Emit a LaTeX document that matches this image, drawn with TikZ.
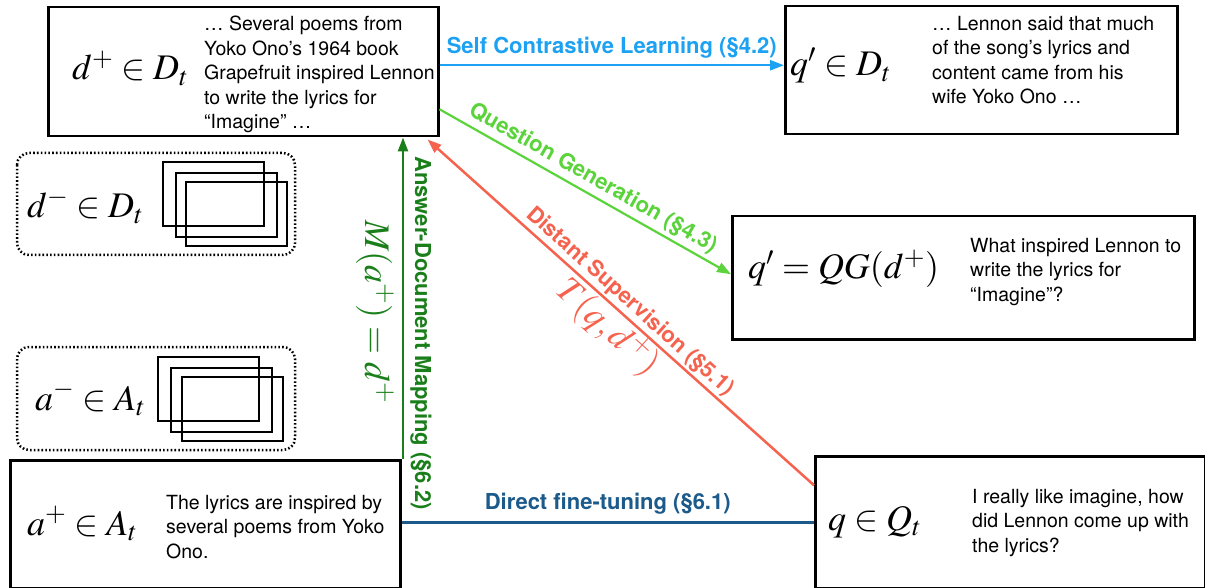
\documentclass[tikz,border=0pt]{standalone}
\usepackage{mathptmx}
\usepackage[no-math]{fontspec}
\setmainfont{TeX Gyre Heros}
\usetikzlibrary{arrows.meta}
\definecolor{cBlue}{HTML}{1DA1F2}
\definecolor{cLGreen}{HTML}{5AD43A}
\definecolor{cDGreen}{HTML}{1A7F1A}
\definecolor{cRed}{HTML}{F5634F}
\definecolor{cNavy}{HTML}{1B5A8A}
\begin{document}
\begin{tikzpicture}[x=1pt,y=-1pt,
  box/.style={draw, line width=2.5pt, inner sep=0pt, anchor=north west},
  mth/.style={inner sep=0pt, anchor=base west, font=\fontsize{36}{40}\selectfont},
  txt/.style={inner sep=0pt, anchor=north west, align=left, font=\fontsize{19.5}{24.5}\selectfont},
  lbl/.style={font=\fontsize{22}{26}\selectfont\bfseries},
  dotbox/.style={line width=2.5pt, dash pattern=on 1.6pt off 2.2pt, rounded corners=12pt},
  stk/.style={line width=2.5pt},
  tip/.style={-{Triangle[length=14pt,width=10pt]}},
  conn/.style={line width=2.5pt}
]
\useasboundingbox (0,0) rectangle (1205,588);

% main boxes
\node[box, minimum width=390pt, minimum height=129pt] (dp) at (47,6) {};
\node[box, minimum width=392pt, minimum height=128pt] (qp) at (784,5) {};
\node[box, minimum width=462pt, minimum height=123pt] (qg) at (731,215) {};
\node[box, minimum width=390pt, minimum height=128pt] (ap) at (9,459) {};
\node[box, minimum width=390pt, minimum height=132pt] (q) at (814,455) {};

% contents
\node[mth] (dpm) at (72,80) {$d^+ \in D_t$};
\node[txt] (dpt) at (204,16) {… Several poems from\\Yoko Ono’s 1964 book\\Grapefruit inspired Lennon\\to write the lyrics for\\“Imagine” …};

\node[mth] (qpm) at (790,76) {$q' \in D_t$};
\node[txt] (qpt) at (932,16) {… Lennon said that much\\of the song’s lyrics and\\content came from his\\wife Yoko Ono …};

\node[mth] (qgm) at (748,279) {$q' = QG(d^+)$};
\node[txt] (qgt) at (970,238) {What inspired Lennon to\\write the lyrics for\\“Imagine”?};

\node[mth] (apm) at (27,535) {$a^+ \in A_t$};
\node[txt] (apt) at (166,495) {The lyrics are inspired by\\several poems from Yoko\\Ono.};

\node[mth] (qm) at (828,530) {$q \in Q_t$};
\node[txt] (qt) at (972,489) {I really like imagine, how\\did Lennon come up with\\the lyrics?};

% negative sets
\draw[dotbox] (17,153) rectangle (295,255);
\node[mth] (dmm) at (27,218) {$d^- \in D_t$};
\draw[stk] (163,162) rectangle ++(101,64);
\draw[stk] (176,173) rectangle ++(101,64);
\draw[stk] (186,182) rectangle ++(101,64);

\draw[dotbox] (17,347) rectangle (295,450);
\node[mth] (amm) at (35,410) {$a^- \in A_t$};
\draw[stk] (158,357) rectangle ++(101,64);
\draw[stk] (171,368) rectangle ++(101,64);
\draw[stk] (182,377) rectangle ++(101,64);

% connectors
\draw[conn, tip, cBlue] ([yshift=6.5pt]dp.east) -- ([yshift=5pt]qp.west)
  node[midway, above=6pt, inner sep=0pt, lbl, text=cBlue] (scl) {Self Contrastive Learning (§4.2)};

\draw[conn, tip, cLGreen, line width=2.2pt] ([yshift=-37.5pt]dp.east) -- ([yshift=3.5pt]qg.west)
  node[midway, sloped, above, inner sep=4pt, lbl, text=cLGreen] (qgl) {Question Generation (§4.3)};

\draw[conn, tip, cRed] ([yshift=37pt]q.west) -- ([xshift=-12pt,yshift=-2pt]dp.south east)
  node[midway, sloped, above, inner sep=2pt, lbl, text=cRed] (dsl) {Distant Supervision (§5.1)}
  node[midway, sloped, below, inner sep=3pt, mth, anchor=north, text=cRed] (dsm) {$T(q, d^+)$};

\coordinate (ftS) at ([yshift=2pt]ap.east);
\draw[conn, cNavy] (ftS) -- (ftS -| q.west)
  node[midway, above=7pt, inner sep=0pt, lbl, text=cNavy] (ftl) {Direct fine-tuning (§6.1)};

\coordinate (admS) at ([xshift=1.5pt]ap.north east);
\draw[conn, tip, cDGreen] (admS) -- (admS |- dp.south);
\node[lbl, text=cDGreen, rotate=-90] (adml) at (421,333) {Answer-Document Mapping (§6.2)};
\node[mth, anchor=center, text=cDGreen, rotate=-90] (admm) at (375,312) {$M(a^+) = d^+$};
\end{tikzpicture}
\end{document}
